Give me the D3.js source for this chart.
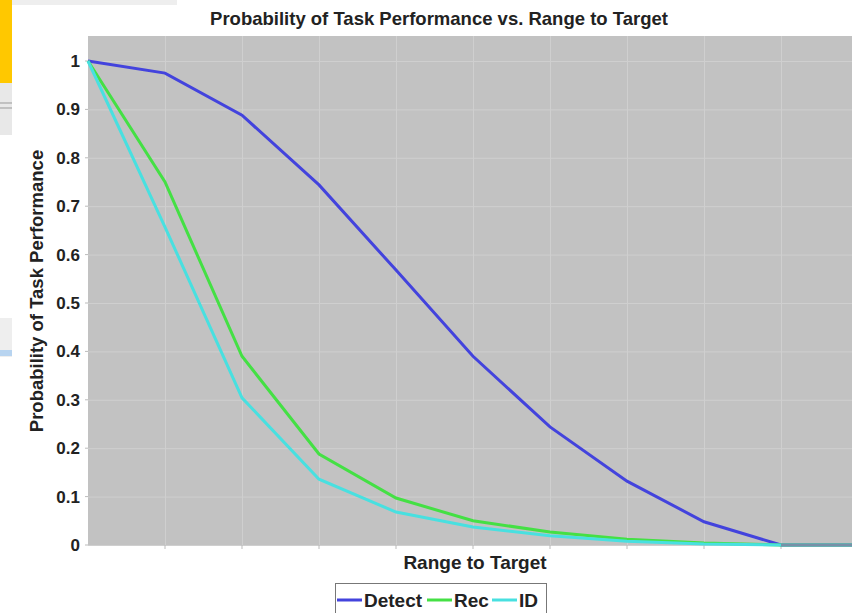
<!doctype html>
<html>
  <head>
    <script src="https://cdn.jsdelivr.net/npm/d3@7/dist/d3.min.js"></script>
    <style>
      body { margin:0; background:#fff; }
      text { font-family: "Liberation Sans", Arial, sans-serif; font-weight:bold; fill:#222; }
    </style>
  </head>
  <body>
    <svg id="chart" width="852" height="613"></svg>
    <script>
      // range steps 0..10 (x axis has no tick labels)
      var steps = [0,1,2,3,4,5,6,7,8,9,10];
      var detect = [1.0,0.975,0.888,0.744,0.568,0.39,0.244,0.132,0.048,0,0];
      var rec    = [1.0,0.75,0.39,0.188,0.097,0.05,0.027,0.012,0.004,0,0];
      var id     = [1.0,0.657,0.304,0.136,0.068,0.037,0.019,0.008,0.002,0,0];
      var yTicks = [0,0.1,0.2,0.3,0.4,0.5,0.6,0.7,0.8,0.9,1];
      var seriesNames = ["Detect","Rec","ID"];
      var seriesColors = ["#4343dd","#44e044","#48e0e0"];

      var svg = d3.select("#chart");

      // surrounding screenshot bits
      svg.append("rect").attr("x",0).attr("y",0).attr("width",12).attr("height",83).style("fill","#ffc800");
      svg.append("rect").attr("x",12).attr("y",0).attr("width",165).attr("height",5).style("fill","#eeeeee");
      svg.append("rect").attr("x",0).attr("y",83).attr("width",12).attr("height",52).style("fill","#e8e8e8");
      svg.append("line").attr("x1",0).attr("x2",12).attr("y1",103).attr("y2",103).style("stroke","#999");
      svg.append("line").attr("x1",0).attr("x2",12).attr("y1",108).attr("y2",108).style("stroke","#999");
      svg.append("rect").attr("x",0).attr("y",318).attr("width",12).attr("height",39).style("fill","#eeeeee");
      svg.append("rect").attr("x",0).attr("y",350).attr("width",12).attr("height",6).style("fill","#b8d4f0");

      var x = d3.scaleLinear().domain([0,10]).range([88,858]);
      var y = d3.scaleLinear().domain([0,1]).range([545,61]);

      svg.append("rect")
        .attr("x",88).attr("y",36).attr("width",852-88).attr("height",545-36)
        .style("fill","#c2c2c2");

      var yAxis = d3.axisLeft(y).tickValues(yTicks).tickSize(-(852-88)).tickPadding(8)
        .tickFormat(d3.format("~g"));
      var yG = svg.append("g").attr("transform","translate(88,0)").call(yAxis);
      yG.select(".domain").remove();
      yG.selectAll(".tick line").style("stroke","#cfcfcf");
      yG.selectAll(".tick text").style("font-size","17px").style("font-family","'Liberation Sans', Arial, sans-serif")
        .style("font-weight","bold").style("fill","#222");

      var xAxis = d3.axisBottom(x).tickValues(steps.slice(1)).tickSize(-(545-36)).tickFormat("");
      var xG = svg.append("g").attr("transform","translate(0,545)").call(xAxis);
      xG.select(".domain").remove();
      xG.selectAll(".tick line").style("stroke","#cfcfcf");

      // small tick marks outside plot
      svg.selectAll("line.ytk").data(yTicks).enter().append("line")
        .attr("x1",85).attr("x2",88).attr("y1",d=>y(d)).attr("y2",d=>y(d)).style("stroke","#bbb");
      svg.selectAll("line.xtk").data(steps.slice(1)).enter().append("line")
        .attr("y1",545).attr("y2",549).attr("x1",d=>x(d)).attr("x2",d=>x(d)).style("stroke","#bbb");

      var line = d3.line().x((d,i) => x(steps[i])).y(d => y(d));
      [detect, rec, id].forEach(function(s,k) {
        svg.append("path").datum(s).attr("d",line)
          .style("fill","none").style("stroke",seriesColors[k]).style("stroke-width",3);
      });
      // overlapping zero segment looks greyish-blue
      svg.append("line").attr("x1",x(9)).attr("x2",852).attr("y1",y(0)).attr("y2",y(0))
        .style("stroke","#7890a8").style("stroke-width",3);

      svg.append("text").attr("x",439).attr("y",25).attr("text-anchor","middle")
        .style("font-size","18.5px").text("Probability of Task Performance vs. Range to Target");
      svg.append("text").attr("x",475).attr("y",569).attr("text-anchor","middle")
        .style("font-size","19px").text("Range to Target");
      svg.append("text").attr("transform","translate(43,291) rotate(-90)").attr("text-anchor","middle")
        .style("font-size","18.5px").text("Probability of Task Performance");

      // legend
      var lg = svg.append("g");
      lg.append("rect").attr("x",335.5).attr("y",583.5).attr("width",211).attr("height",40)
        .style("fill","#fff").style("stroke","#777");
      var lx = [337,427,492];
      seriesNames.forEach(function(n,k) {
        lg.append("line").attr("x1",lx[k]).attr("x2",lx[k]+25).attr("y1",600).attr("y2",600)
          .style("stroke",seriesColors[k]).style("stroke-width",3);
        lg.append("text").attr("x",lx[k]+27).attr("y",607).style("font-size","19px").text(n);
      });
    </script>
  </body>
</html>
